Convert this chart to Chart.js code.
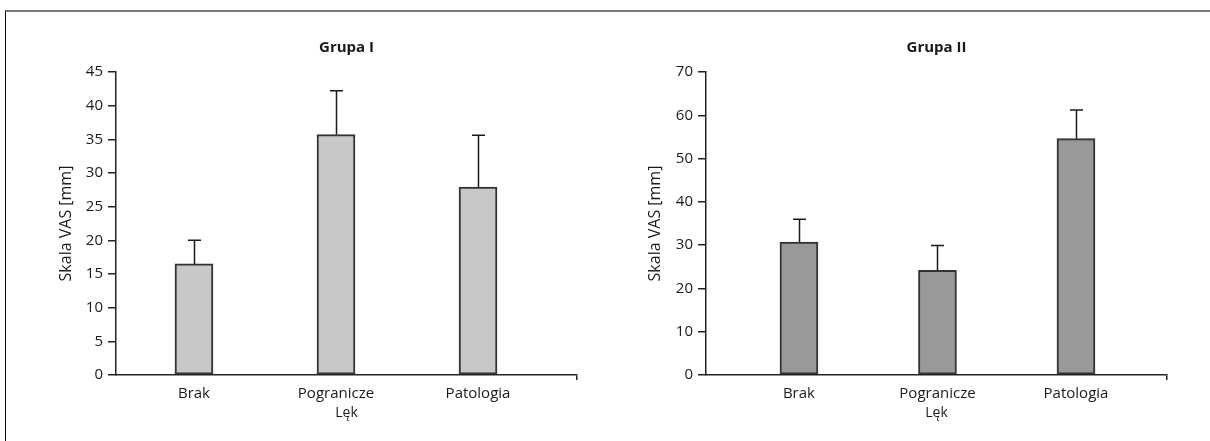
<!DOCTYPE html>
<html>
<head>
<meta charset="utf-8">
<script src="https://cdn.jsdelivr.net/npm/chart.js@4"></script>
<style>
  html, body { margin: 0; padding: 0; background: #fff; }
  #frame {
    position: absolute; left: 5px; top: 10px; width: 1205px; height: 431px;
    border-top: 2px solid #7a7a7a; border-left: 1.5px solid #111; box-sizing: border-box;
  }
  .box { position: absolute; top: 0; width: 605px; height: 441px; }
</style>
</head>
<body>
<div id="frame"></div>
<div class="box" style="left:0"><canvas id="grupa-1" width="605" height="441"></canvas></div>
<div class="box" style="left:605px"><canvas id="grupa-2" width="605" height="441"></canvas></div>
<script>
const categories = ['Brak', 'Pogranicze', 'Patologia'];
const grupa1_means = [16.5, 35.7, 27.9];
const grupa1_errors = [3.5, 6.5, 7.7];
const grupa2_means = [30.7, 24.2, 54.6];
const grupa2_errors = [5.3, 5.7, 6.6];
const grupa1_ticks = { max: 45, step: 5 };
const grupa2_ticks = { max: 70, step: 10 };

const FONT = "'Open Sans', 'Noto Sans', sans-serif";
const INK = '#1a1a1a';

// whiskers drawn on top of the bars (upper side only, like the original)
const errorBars = {
  id: 'errorBars',
  afterDatasetsDraw(chart, args, opts) {
    const ctx = chart.ctx;
    const xs = chart.scales.x, ys = chart.scales.y;
    const points = chart.data.datasets[0].data;
    ctx.save();
    ctx.strokeStyle = INK;
    ctx.lineWidth = 1.5;
    points.forEach((p, i) => {
      const px = Math.round(xs.getPixelForValue(p.x)) + 0.5;
      const base = ys.getPixelForValue(p.y);
      const top = ys.getPixelForValue(p.y + opts.errors[i]);
      ctx.beginPath();
      ctx.moveTo(px, base);
      ctx.lineTo(px, top);
      ctx.moveTo(px - 6.5, top);
      ctx.lineTo(px + 6.5, top);
      ctx.stroke();
    });
    ctx.restore();
  }
};

function makeChart(el, title, means, errors, yTicks, fill, xRange, pad, yWidth) {
  return new Chart(document.getElementById(el), {
    type: 'bar',
    data: {
      datasets: [{
        data: means.map((v, i) => ({ x: i, y: v })),
        backgroundColor: fill,
        borderColor: '#333',
        borderWidth: 2,
        borderSkipped: false,
        barThickness: 38
      }]
    },
    options: {
      responsive: false,
      animation: false,
      devicePixelRatio: 1,
      layout: { padding: { left: pad.left, right: pad.right, top: 27, bottom: 0 } },
      scales: {
        x: {
          type: 'linear',
          offset: false,
          min: xRange[0],
          max: xRange[1],
          afterBuildTicks: s => { s.ticks = [0, 1, 2, xRange[1]].map(v => ({ value: v })); },
          afterFit: s => { s.height = 441 - 375; },
          ticks: {
            autoSkip: false, maxRotation: 0, padding: 5,
            callback: v => categories[v] ?? '',
            font: { family: FONT, size: 15 }, color: INK
          },
          grid: {
            offset: false, drawOnChartArea: false, drawTicks: true, tickLength: 5, lineWidth: 1.5,
            tickColor: c => c.index === 3 ? '#222' : 'rgba(0,0,0,0)'
          },
          border: { display: true, color: '#222', width: 1.5 },
          title: {
            display: true, text: 'Lęk',
            font: { family: FONT, size: 14 }, color: INK,
            padding: { top: 0, bottom: 20 }
          }
        },
        y: {
          min: 0,
          max: yTicks.max,
          afterFit: s => { s.width = yWidth; },
          ticks: {
            stepSize: yTicks.step, padding: 5,
            font: { family: FONT, size: 15 }, color: INK
          },
          grid: { drawOnChartArea: false, drawTicks: true, tickLength: 8, tickColor: '#222', lineWidth: 1.5 },
          border: { display: true, color: '#222', width: 1.5 },
          title: {
            display: true, text: 'Skala VAS [mm]',
            font: { family: FONT, size: 16 }, color: INK,
            padding: { top: 3, bottom: 0 }
          }
        }
      },
      plugins: {
        legend: { display: false },
        tooltip: { enabled: false },
        title: {
          display: true, text: title, fullSize: false,
          font: { family: FONT, size: 15, weight: 'bold' }, color: INK,
          padding: { top: 12, bottom: 15 }
        },
        errorBars: { errors: errors }
      }
    },
    plugins: [errorBars]
  });
}

makeChart('grupa-1', 'Grupa I', grupa1_means, grupa1_errors, grupa1_ticks, '#c8c8c8',
  [-0.549, 2.697], { left: 54, right: 28 }, 62);
makeChart('grupa-2', 'Grupa II', grupa2_means, grupa2_errors, grupa2_ticks, '#999999',
  [-0.671, 2.657], { left: 38, right: 43 }, 63);
</script>
</body>
</html>
